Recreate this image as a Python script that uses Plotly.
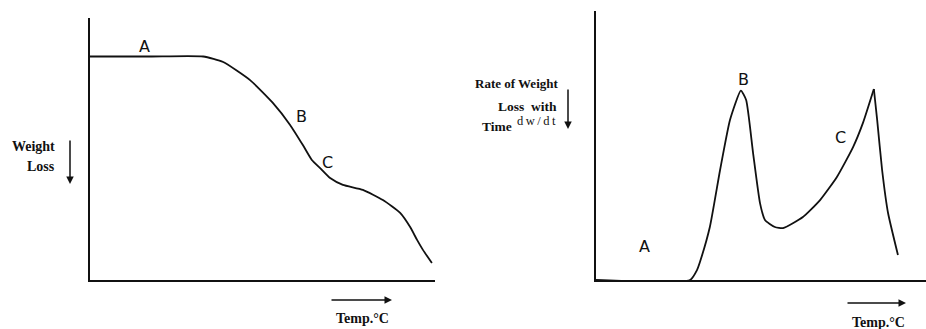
import plotly.graph_objects as go

W, H = 926, 329

# Left panel: thermogravimetric curve (weight vs temperature, arbitrary units)
tg_temp = [0, 17.4, 32.8, 38.6, 46.4, 53.0, 58.0, 61.7, 64.3, 66.7, 69.6, 73.3, 79.1, 84.9, 89.9, 92.8, 94.8, 96.5, 99.1]
tg_weight = [85.3, 85.3, 85.3, 83.2, 76.3, 67.6, 59.2, 51.5, 45.8, 42.7, 38.9, 36.3, 34.4, 30.5, 25.6, 20.2, 15.3, 11.5, 6.5]

# Right panel: derivative curve (rate of weight loss vs temperature)
dtg_temp = [0, 28.5, 30.6, 31.5, 34.5, 37.6, 40.6, 43.9, 45.5, 47.6, 49.7, 51.2, 54.2, 56.7,
            62.7, 67.9, 73.0, 77.9, 80.9, 84.2, 85.2, 86.7, 88.5, 91.5]
dtg_rate = [0, 0, 3.7, 6.7, 19.7, 40.9, 59.5, 70.4, 66.9, 47.2, 28.6, 22.3, 19.7, 19.3,
            23.4, 29.7, 38.3, 49.4, 58.4, 71.0, 59.5, 40.9, 24.9, 9.3]

# Point labels
tg_labels = ["A", "B", "C"]
tg_label_x = [15.7, 61.4, 68.7]
tg_label_y = [89.0, 62.5, 45.0]
dtg_labels = ["B", "A", "C"]
dtg_label_x = [44.8, 14.8, 74.2]
dtg_label_y = [74.5, 12.5, 52.8]


def px(x):
    return x / W


def py(y):
    return 1 - y / H


fig = go.Figure()
ink = "#111111"
fig.add_trace(go.Scatter(x=tg_temp, y=tg_weight, mode="lines",
                         line=dict(color=ink, width=1.8, shape="spline", smoothing=0.5),
                         xaxis="x", yaxis="y", hoverinfo="skip"))
# split the derivative curve at its sharp second peak so the cusp stays sharp
k = dtg_rate.index(max(dtg_rate[14:]))
for xs, ys in ((dtg_temp[:k + 1], dtg_rate[:k + 1]), (dtg_temp[k:], dtg_rate[k:])):
    fig.add_trace(go.Scatter(x=xs, y=ys, mode="lines",
                             line=dict(color=ink, width=1.8, shape="spline", smoothing=0.5),
                             xaxis="x2", yaxis="y2", hoverinfo="skip"))

axis_common = dict(showgrid=False, zeroline=False, showticklabels=False, ticks="",
                   showline=True, linecolor=ink, linewidth=2, fixedrange=True)
fig.update_layout(
    width=W, height=H, margin=dict(l=0, r=0, t=0, b=0),
    paper_bgcolor="white", plot_bgcolor="white", showlegend=False,
    xaxis=dict(axis_common, domain=[px(90), px(435)], range=[0, 100], anchor="y"),
    yaxis=dict(axis_common, domain=[py(280), py(18)], range=[0, 100], anchor="x"),
    xaxis2=dict(axis_common, domain=[px(596), 1.0], range=[0, 100], anchor="y2"),
    yaxis2=dict(axis_common, domain=[py(280), py(11)], range=[0, 100], anchor="x2"),
)

letter_font = dict(family="DejaVu Sans", size=16, color=ink)
for t, x, y in zip(tg_labels, tg_label_x, tg_label_y):
    fig.add_annotation(text=t, x=x, y=y, xref="x", yref="y", showarrow=False, font=letter_font)
for t, x, y in zip(dtg_labels, dtg_label_x, dtg_label_y):
    fig.add_annotation(text=t, x=x, y=y, xref="x2", yref="y2", showarrow=False, font=letter_font)

serif = dict(family="Liberation Serif", size=14, color=ink)


def label(text, x, y, xanchor="center", font=serif):
    fig.add_annotation(text=text, x=px(x), y=py(y), xref="paper", yref="paper",
                       xanchor=xanchor, yanchor="middle", showarrow=False, font=font)


# Left y label
label("<b>Weight</b>", 57, 146, "right")
label("<b>Loss</b>", 57, 166, "right")
# Right y label
label("<b>Rate of Weight</b>", 560, 83, "right", dict(serif, size=13))
label("<b>Loss&nbsp;&nbsp;with</b>", 559, 106, "right", dict(serif, size=13.5))
label("<b>Time</b>", 514, 127, "right", dict(serif, size=13.5))
label("d\u2009w\u2009/\u2009d\u2009t", 515, 121, "left", dict(serif, size=12.5))
# X labels
label("<b>Temp.°C</b>", 362, 318)
label("<b>Temp.°C</b>", 878, 322)

arrow = dict(xref="paper", yref="paper", text="", showarrow=True, arrowhead=2, arrowsize=1,
             arrowwidth=1.5, arrowcolor=ink, axref="pixel", ayref="pixel")
fig.add_annotation(arrow, x=px(70), y=py(184), ax=0, ay=-45)
fig.add_annotation(arrow, x=px(568), y=py(129), ax=0, ay=-41)
fig.add_annotation(arrow, x=px(392), y=py(300), ax=-62, ay=0)
fig.add_annotation(arrow, x=px(906), y=py(303), ax=-60, ay=0)

fig.write_html("out.html", config={"displayModeBar": False},
               post_script="document.body.style.margin='0px';")
